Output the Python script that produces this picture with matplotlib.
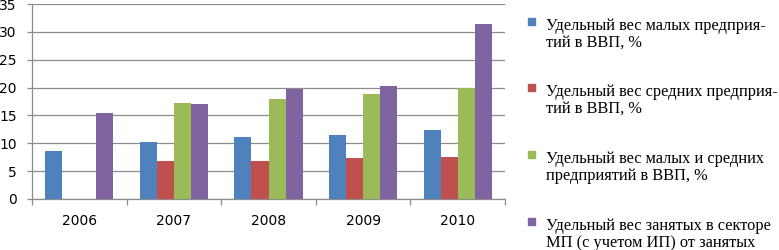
import numpy as np
import matplotlib.pyplot as plt
from matplotlib.patches import Rectangle

years = ['2006', '2007', '2008', '2009', '2010']
small = [8.7, 10.3, 11.2, 11.5, 12.3]
medium = [np.nan, 6.8, 6.8, 7.4, 7.6]
small_medium = [np.nan, 17.3, 18.0, 18.8, 20.0]
employed = [15.4, 17.1, 19.7, 20.3, 31.5]

labels = [
    ['Удельный вес малых предприя-', 'тий в ВВП, %'],
    ['Удельный вес средних предприя-', 'тий в ВВП, %'],
    ['Удельный вес малых и средних', 'предприятий в ВВП, %'],
    ['Удельный вес занятых в секторе', 'МП (с учетом ИП) от занятых'],
]
colors = ['#4F81BD', '#C0504D', '#9BBB59', '#8064A2']
series = [small, medium, small_medium, employed]

fig = plt.figure(figsize=(7.79, 2.5), dpi=100)
ax = fig.add_axes([32 / 779, 51 / 250, 473 / 779, 195 / 250])

x = np.arange(len(years))
w = 0.18
for i, (vals, c) in enumerate(zip(series, colors)):
    ax.bar(x + (i - 1.5) * w, vals, width=w, color=c, zorder=3)

ax.set_xlim(-0.5, len(years) - 0.5)
ax.set_ylim(0, 35)
ax.set_yticks(range(0, 36, 5))
ax.yaxis.grid(True, color='#8c8c8c', linewidth=0.9, zorder=0)
ax.set_xticks(x)
ax.set_xticklabels(years)
ax.set_xticks(np.arange(-0.5, len(years)), minor=True)
ax.tick_params(axis='x', which='major', length=0, pad=11, labelsize=10)
ax.tick_params(axis='x', which='minor', length=4, color='#8c8c8c', width=0.9)
ax.tick_params(axis='y', length=3.5, color='#8c8c8c', width=0.9, pad=7.5, labelsize=10)
for s in ['top', 'right']:
    ax.spines[s].set_visible(False)
for s in ['left', 'bottom']:
    ax.spines[s].set_color('#8c8c8c')
    ax.spines[s].set_linewidth(0.9)

# legend drawn by hand, one line of text at a time
baselines = [30, 96, 163, 230]
for lines, c, yb in zip(labels, colors, baselines):
    fig.patches.append(Rectangle((528 / 779, 1 - (yb - 5) / 250), 7 / 779, 7 / 250,
                                 transform=fig.transFigure, color=c))
    for k, line in enumerate(lines):
        fig.text(546 / 779, 1 - (yb + 17 * k) / 250, line, family='Liberation Serif',
                 fontsize=11.8, va='baseline', ha='left')

fig.savefig('out.png', dpi=100)
